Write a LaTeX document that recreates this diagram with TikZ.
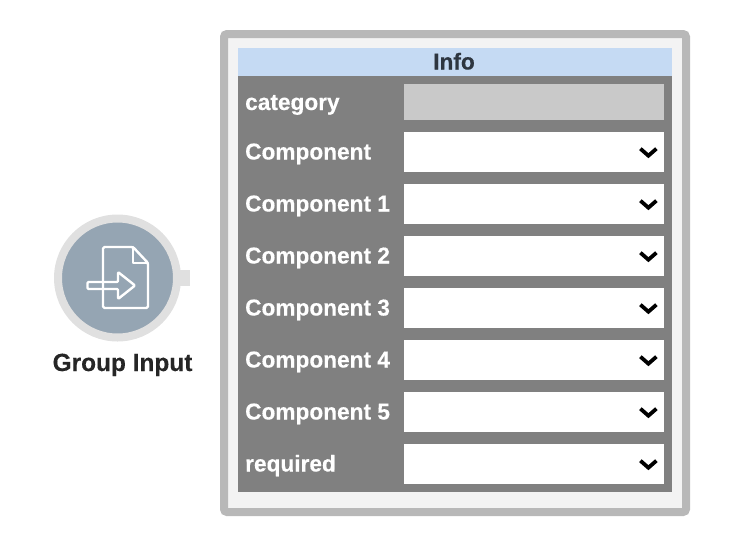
\documentclass[tikz,border=0pt]{standalone}
\usepackage{fontspec}
\setmainfont[BoldFeatures={FakeBold=0.25,FakeStretch=0.985}]{Liberation Sans}
\usetikzlibrary{positioning}
\definecolor{frameGray}{HTML}{B8B8B8}
\definecolor{paneWhite}{HTML}{F3F3F3}
\definecolor{headBlue}{HTML}{C5DAF3}
\definecolor{bodyGray}{HTML}{808080}
\definecolor{lockGray}{HTML}{C9C9C9}
\definecolor{ringGray}{HTML}{E0E0E0}
\definecolor{discBlue}{HTML}{95A5B3}
\definecolor{inkDark}{HTML}{2E3640}
\tikzset{
  rowlabel/.style={anchor=base west,inner sep=0pt,text=white,font=\fontsize{23}{23}\selectfont\bfseries},
  field/.style={anchor=north west,inner sep=0pt,minimum width=260pt,minimum height=40pt,fill=white},
  chevron/.style={draw=black,line width=3.8pt,line cap=butt,line join=miter},
  iconline/.style={draw=white,line width=2.4pt,line join=round,line cap=round}
}
\begin{document}
\begin{tikzpicture}[x=1pt,y=-1pt]
\useasboundingbox (0,0) rectangle (744,544);
\draw [draw=frameGray,fill=paneWhite,line width=8pt,rounded corners=3pt] (224,34) rectangle (686,512);
\fill [bodyGray] (238,76) rectangle (672,492);
\node [anchor=north west,inner sep=0pt,minimum width=434pt,minimum height=28pt,fill=headBlue] (head) at (238,48) {};
\node [anchor=base,inner sep=0pt,text=inkDark,font=\fontsize{23}{23}\selectfont\bfseries] (info) at (454,69.5) {Info};
\node [field,minimum height=36pt,fill=lockGray] (catbox) at (404,84) {};
\node [field] (comp) at (404,132) {};
\node [field] (compa) at (404,184) {};
\node [field] (compb) at (404,236) {};
\node [field] (compc) at (404,288) {};
\node [field] (compd) at (404,340) {};
\node [field] (compe) at (404,392) {};
\node [field] (reqbox) at (404,444) {};
\node [rowlabel] (catlabel) at (245,110) {category};
\node [rowlabel] (complabel) at (245,159.5) {Component};
\node [rowlabel] (compalabel) at (245,211.5) {Component 1};
\node [rowlabel] (compblabel) at (245,263.5) {Component 2};
\node [rowlabel] (compclabel) at (245,315.5) {Component 3};
\node [rowlabel] (compdlabel) at (245,367.5) {Component 4};
\node [rowlabel] (compelabel) at (245,419.5) {Component 5};
\node [rowlabel] (reqlabel) at (245,471.5) {required};
\draw [chevron] ([shift={(-24,-3.5)}]comp.east) -- ++(8,7) -- ++(8,-7);
\draw [chevron] ([shift={(-24,-3.5)}]compa.east) -- ++(8,7) -- ++(8,-7);
\draw [chevron] ([shift={(-24,-3.5)}]compb.east) -- ++(8,7) -- ++(8,-7);
\draw [chevron] ([shift={(-24,-3.5)}]compc.east) -- ++(8,7) -- ++(8,-7);
\draw [chevron] ([shift={(-24,-3.5)}]compd.east) -- ++(8,7) -- ++(8,-7);
\draw [chevron] ([shift={(-24,-3.5)}]compe.east) -- ++(8,7) -- ++(8,-7);
\draw [chevron] ([shift={(-24,-3.5)}]reqbox.east) -- ++(8,7) -- ++(8,-7);
\fill [ringGray] (178,270) rectangle (190,286);
\node [circle,inner sep=0pt,minimum size=119pt,draw=ringGray,line width=8pt,fill=discBlue] (group) at (117.5,278) {};
\node [anchor=base,inner sep=0pt,text=black!85,font=\fontsize{24.8}{25}\selectfont\bfseries] (grouplabel) at (122.5,371) {Group Input};
\draw [iconline,rounded corners=1.5pt] (103,308) -- (103,247) -- (133,247) -- (148,263) -- (148,308) -- cycle;
\draw [iconline] (133,247) -- (133,263) -- (148,263);
\draw [iconline,rounded corners=1pt] (87.5,282) -- (118,282) -- (118,272) -- (135,285.5) -- (118,299) -- (118,289) -- (87.5,289) -- cycle;
\end{tikzpicture}
\end{document}
